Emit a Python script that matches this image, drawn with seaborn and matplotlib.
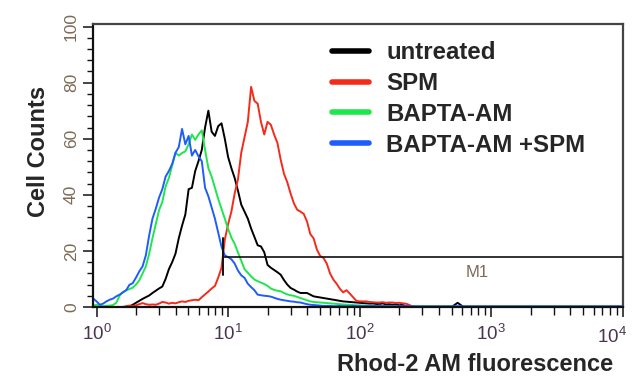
import numpy as np
import pandas as pd
import matplotlib
matplotlib.use("Agg")
import matplotlib.pyplot as plt
import matplotlib.transforms as mtransforms
import seaborn as sns
from matplotlib.ticker import MultipleLocator, LogLocator, NullFormatter, FuncFormatter
from matplotlib.lines import Line2D

# ---------------- data ----------------
series_names = ["untreated", "SPM", "BAPTA-AM", "BAPTA-AM +SPM"]
series_colors = ["#000000", "#f52a1a", "#1ee64b", "#1f5cff"]

# instrument channel grid (log10 of fluorescence), 0.025 decade per channel
channel_log10 = np.arange(-1, 101) * 0.025
tail_log10 = [2.55, 2.70, 2.745, 2.79, 3.0, 3.5, 4.0]

counts_untreated = [
    0, 0, 0, 0, 0, 0, 0, 0, 0, 0,
    0, 0.2, 0.8, 1.5, 2.2, 2.9, 3.5, 4.1, 5.0, 5.8,
    6.6, 7.3, 10.0, 13.5, 16.0, 19.0, 24.5, 29.0, 33.0, 42.0,
    42.5, 48.5, 52.0, 56.0, 64.0, 70.0, 62.5, 61.0, 64.5, 65.5,
    60.0, 53.5, 49.5, 46.0, 41.5, 36.5, 34.0, 31.5, 28.0, 25.0,
    22.0, 21.6, 19.5, 15.0, 14.0, 13.2, 12.4, 11.5, 9.6, 8.0,
    6.8, 6.2, 5.5, 5.0, 5.0, 5.0, 4.4, 3.8, 3.6, 3.4,
    3.2, 3.0, 2.8, 2.6, 2.4, 2.2, 2.0, 1.9, 1.8, 1.7,
    1.6, 1.5, 1.4, 1.3, 1.2, 1.2, 1.1, 1.0, 1.3, 0.9,
    1.0, 0.8, 1.0, 0.6, 0.8, 0.3, 0.1, 0, 0, 0,
    0, 0]
tail_untreated = [0, 0, 1.5, 0, 0, 0, 0]

counts_spm = [
    0, 0, 0, 0, 0, 0, 0, 0, 0, 0,
    0.3, 0.5, 0.3, 0.6, 1.0, 1.4, 1.0, 0.8, 0.9, 0.8,
    1.2, 1.8, 1.6, 1.2, 1.5, 1.3, 1.7, 2.0, 1.8, 2.2,
    2.4, 2.6, 2.4, 3.5, 4.5, 5.5, 6.6, 7.5, 10.5, 14.0,
    24.0, 29.5, 34.0, 40.5, 45.5, 55.0, 60.5, 66.0, 78.5, 73.5,
    72.5, 66.0, 61.5, 66.0, 65.0, 61.5, 58.5, 52.5, 47.5, 44.5,
    40.5, 37.0, 34.7, 34.0, 33.2, 30.5, 26.0, 24.5, 20.5, 18.2,
    17.5, 15.5, 12.0, 9.8, 8.3, 6.5, 5.2, 6.0, 4.8, 3.5,
    2.2, 2.0, 2.0, 2.0, 1.8, 1.7, 1.6, 1.6, 1.7, 1.5,
    1.6, 1.6, 1.4, 1.5, 1.3, 1.2, 0.8, 0.2, 0, 0,
    0, 0]
tail_spm = [0, 0, 0, 0, 0, 0, 0]

counts_bapta = [
    0.5, 0.8, 0.5, 0.3, 0.4, 0.5, 0.7, 1.5, 4.0, 5.3,
    5.9, 6.4, 6.9, 8.0, 9.5, 12.0, 14.5, 19.0, 24.5, 29.5,
    34.5, 37.5, 43.0, 46.0, 50.5, 55.0, 54.0, 54.9, 55.5, 58.0,
    61.5, 59.6, 61.5, 63.0, 56.0, 49.5, 46.5, 42.5, 38.5, 35.0,
    31.5, 27.8, 24.8, 22.5, 19.5, 16.5, 13.5, 12.2, 10.9, 9.8,
    9.2, 8.7, 8.2, 7.5, 6.6, 6.1, 5.8, 5.6, 5.0, 4.5,
    4.2, 4.0, 3.6, 3.2, 2.8, 2.4, 2.0, 1.8, 1.7, 1.6,
    1.5, 1.4, 1.3, 1.2, 1.1, 1.0, 0.9, 0.8, 0.8, 0.7,
    0.6, 0.6, 0.5, 0.5, 0.4, 0.6, 0.3, 0.5, 0.3, 0.4,
    0.2, 0.1, 0, 0, 0, 0, 0, 0, 0, 0,
    0, 0]
tail_bapta = [0, 0, 0, 0, 0, 0, 0]

counts_bapta_spm = [
    3.0, 2.0, 0.8, 1.2, 2.0, 2.6, 3.0, 3.8, 4.4, 5.2,
    6.0, 7.9, 8.5, 10.5, 12.7, 14.5, 18.5, 25.5, 31.5, 35.0,
    39.0, 42.0, 46.5, 48.5, 51.0, 55.0, 57.0, 63.5, 58.0, 61.0,
    54.0, 56.0, 53.7, 52.0, 42.5, 39.5, 35.5, 31.5, 26.5, 21.5,
    18.4, 17.8, 17.0, 15.5, 13.0, 11.3, 10.4, 8.3, 7.1, 6.0,
    4.4, 4.2, 4.0, 3.9, 3.7, 3.3, 2.9, 2.6, 2.4, 2.2,
    2.0, 1.9, 1.7, 1.6, 1.3, 1.0, 0.8, 0.7, 0.6, 0.5,
    0.4, 0.4, 0.4, 0.3, 0.3, 0.4, 0.3, 0.3, 0.3, 0.4,
    0.3, 0.3, 0.3, 0.3, 0.3, 0.4, 0.3, 0.3, 0.3, 0.3,
    0.3, 0.3, 0.3, 0.3, 0.3, 0.3, 0.3, 0.3, 0.3, 0.3,
    0.3, 0.3]
tail_bapta_spm = [0.3, 0.3, 0.3, 0.3, 0.3, 0.3, 0.3]

# M1 marker gate
m1_lo, m1_hi, m1_level = 9.1, 10000, 17.8
m1_bar = (11.4, 24.6)
m1_label_pos = (777, 12.2)

y_major = [0, 20, 40, 60, 80, 100]

# ---------------- figure ----------------
sns.set_style("ticks")
plt.rcParams["font.family"] = ["Liberation Sans", "DejaVu Sans"]
plt.rcParams["mathtext.default"] = "regular"

fig = plt.figure(figsize=(6.36, 3.78), dpi=100)
ax = fig.add_axes([93 / 636, 1 - 307 / 378, (622.7 - 93) / 636, (307 - 24.3) / 378])

all_counts = [counts_untreated, counts_spm, counts_bapta, counts_bapta_spm]
all_tails = [tail_untreated, tail_spm, tail_bapta, tail_bapta_spm]
frames = []
for name, c, t in zip(series_names, all_counts, all_tails):
    logs = np.concatenate([channel_log10, tail_log10])
    frames.append(pd.DataFrame({"fluorescence": 10 ** logs,
                                "count": list(c) + list(t),
                                "sample": name}))
df = pd.concat(frames, ignore_index=True)

sns.lineplot(data=df, x="fluorescence", y="count", hue="sample",
             hue_order=series_names, palette=series_colors,
             estimator=None, sort=False, linewidth=1.4, legend=False, ax=ax)

ax.set_xscale("log")
ax.set_xlim(10 ** -0.027, 1e4)
ax.set_ylim(0, 100.8)

# M1 gate
ax.plot([m1_lo, m1_hi], [m1_level, m1_level], color="#111111", lw=1.2, zorder=5)
ax.plot([m1_lo, m1_lo], list(m1_bar), color="#111111", lw=1.4, zorder=5)
ax.text(m1_label_pos[0], m1_label_pos[1], "M1", color="#7d6b58", fontsize=12,
        ha="center", va="center")

# axes styling
for side in ["left", "bottom"]:
    ax.spines[side].set_linewidth(1.6)
    ax.spines[side].set_color("#111111")
for side in ["top", "right"]:
    ax.spines[side].set_visible(True)
    ax.spines[side].set_linewidth(1.6)
    ax.spines[side].set_color("#444444")

xcol = "#4a3550"
ycol = "#7d6b58"
x_label_size = 13.5

ax.xaxis.set_major_locator(LogLocator(base=10, numticks=10))
ax.xaxis.set_minor_locator(LogLocator(base=10, subs=np.arange(2, 10), numticks=20))
ax.xaxis.set_minor_formatter(NullFormatter())


def fmt_x(v, pos):
    e = int(round(np.log10(v)))
    if e >= 4:
        return ""
    return r"$10^{%d}$" % e


ax.xaxis.set_major_formatter(FuncFormatter(fmt_x))
ax.set_yticks(y_major)
ax.yaxis.set_minor_locator(MultipleLocator(4))

ax.tick_params(axis="x", which="major", length=7.5, width=1.1, direction="out",
               labelsize=x_label_size, labelcolor=xcol, pad=5, color="#111111")
ax.tick_params(axis="x", which="minor", length=5.5, width=1.0, direction="out", color="#111111")
ax.tick_params(axis="y", which="major", length=7, width=1.1, direction="out",
               labelsize=12.5, labelcolor=ycol, labelrotation=90, pad=3, color="#111111")
ax.tick_params(axis="y", which="minor", length=4, width=1.0, direction="out", color="#111111")
for lab in ax.get_yticklabels():
    lab.set_va("center")

# last decade label, nudged inward so it stays on the canvas
last_tr = mtransforms.offset_copy(ax.get_xaxis_transform(), fig=fig, x=-8, y=-7.5 - 5 - 1.6,
                                  units="points")
ax.text(1e4, 0, r"$10^{4}$", transform=last_tr, ha="center", va="top",
        fontsize=x_label_size, color=xcol)

ax.set_ylabel("Cell Counts", fontsize=17, fontweight="bold")
ax.yaxis.set_label_coords(-0.082, 0.552)
ax.set_xlabel("Rhod-2 AM fluorescence", fontsize=17, fontweight="bold")
ax.xaxis.set_label_coords(0.722, -0.163)

handles = [Line2D([0], [0], color=c, lw=4) for c in series_colors]
leg = ax.legend(handles, series_names, loc="upper left",
                bbox_to_anchor=(332 / 636, 1 - 41 / 378), bbox_transform=fig.transFigure,
                frameon=False, fontsize=17.3, handlelength=1.55, handletextpad=0.7,
                labelspacing=0.33, borderpad=0, borderaxespad=0)
for t in leg.get_texts():
    t.set_fontweight("bold")

fig.savefig("out.png", dpi=100, facecolor="white")
